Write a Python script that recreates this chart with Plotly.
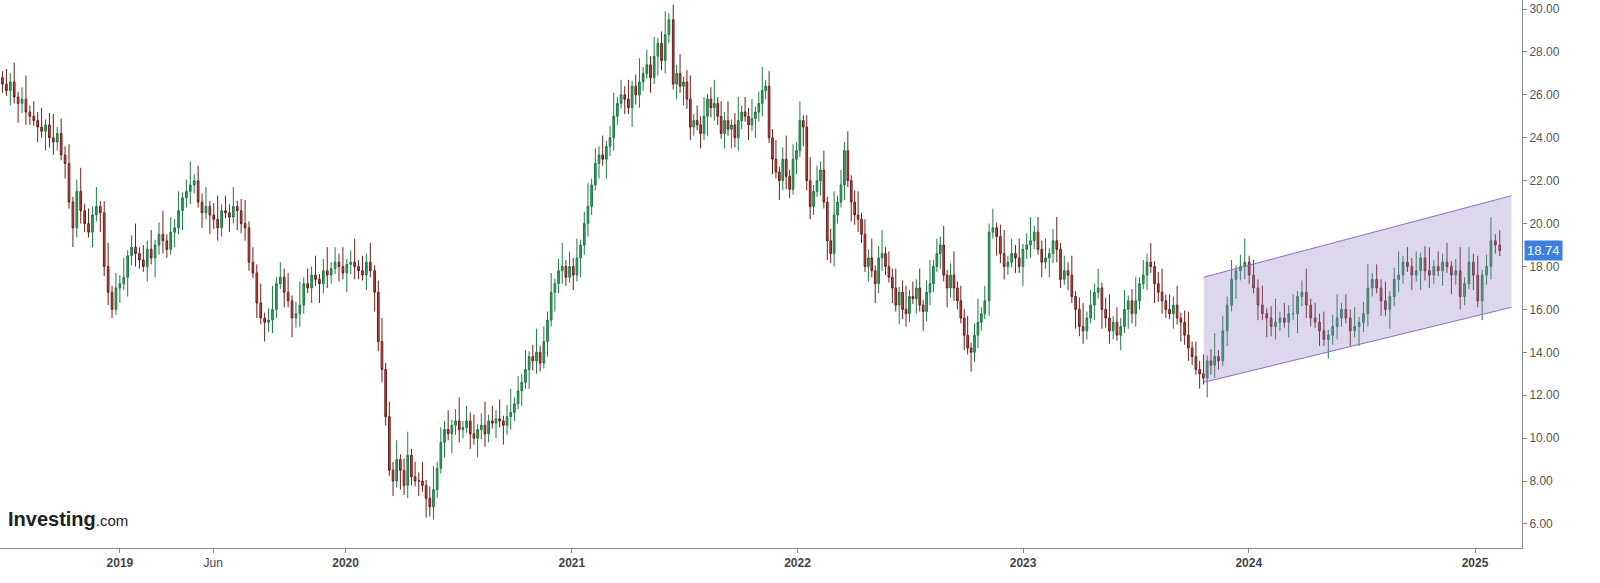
import plotly.graph_objects as go
import pandas as pd

closes_a = [26.5,26.2,26.6,25.9,25.6,25.8,25.2,25.0,24.8,24.5,24.3,24.6,24.0,23.8,24.2,23.2,22.8,21.0,19.8,21.5,20.6,20.0,19.6,20.4,20.8,20.5,18.0,16.8,16.0,17.0,17.2,17.5,18.5,18.9,18.6,18.3,18.0,18.8,18.4,19.0,19.5,19.2,18.8,19.6,19.8,20.6,21.2,21.5,21.8,22.0,21.0,20.5,20.8,20.4,20.2,19.8,20.6,20.5,20.3,20.8,20.6,20.0,19.8,18.2,17.7,16.3,15.6,15.4,15.5,16.0,17.2,17.5,16.8,16.4,15.6,15.8,16.2,17.2,17.0,17.6,17.4,17.2,17.8,17.6,17.9,18.2,18.0,17.7,18.1,18.2,18.0,17.8,17.6,18.2,17.8]
closes_b = [16.8,14.5,13.2,11.0,8.5,8.0,9.0,8.5,7.8,9.2,8.2,8.0,8.0,7.8,7.2,6.8,7.6,8.6,9.8,10.4,10.2,10.6,10.8,10.4,10.5,10.8,10.2,10.0,10.4,10.6,10.2,10.8,10.7,10.9,10.8,10.6,11.0,11.2,11.6,12.2,12.6,13.2,13.8,13.6,14.0,13.5,14.5,15.5,16.8,17.2,17.8,18.0,17.5,18.0,17.6,18.4,19.0,20.0,20.8,21.8,22.8,23.2,23.0,23.6,24.0,25.0,25.6,26.0,25.8,25.4,26.4,26.0,26.6,27.0,27.4,26.8,27.8,28.4,27.6,28.8,29.5]
closes_c = [26.5,27.0,26.4,26.6,25.8,24.5,24.8,24.6,24.2,25.0,25.8,25.4,25.6,25.0,24.2,24.8,24.4,24.6,24.0,24.8,25.2,25.0,24.6,24.9,25.2,25.6,26.2,26.4,24.0,23.0,22.4,22.0,23.0,22.2,21.6,23.0,23.4,24.8,24.5,22.0,20.8,21.5,22.0,22.5,21.0,19.2,18.6,20.4,21.0,21.8,23.4,22.0,21.0,20.4,20.2,19.5,18.0,18.4,17.8,17.2,18.4,18.6,18.0,17.5,17.0,16.2,16.8,16.0,15.8,16.6,16.5,17.0,16.2,15.9,16.8,17.2,18.0,18.6,19.0,17.6,17.0,17.6,17.0,16.4,15.6,14.8,14.2,14.0,14.8,15.4,15.8,16.4]
closes_d = [19.6,19.8,19.4,18.6,18.0,18.2,18.6,18.4,18.0,18.8,19.0,19.2,19.6,18.8,18.2,18.4,18.6,19.2,18.8,17.4,17.8,17.6,16.6,16.0,15.2,15.0,15.6,16.2,16.8,17.0,16.0,15.6,15.0,15.4,14.8,15.2,16.0,16.4,15.8,16.4,17.2,17.6,18.2,18.0,17.2,16.8,16.4,16.0,15.8,16.2,15.6,15.4,14.8,14.2,13.8,13.2,13.0,12.8,13.6,13.4,13.8,13.6]
closes_e = [15.0,16.2,17.4,17.8,18.0,18.2,17.6,17.0,16.2,15.8,15.6,15.2,15.4,15.6,15.4,15.8,15.8,16.6,16.8,16.2,15.6,15.4,15.0,14.6,14.8,15.2,15.6,16.0,15.6,15.0,15.2,15.4,15.8,17.0,17.4,17.0,16.4,16.0,16.6,17.4,17.6,18.2,18.0,17.6,17.8,18.4,17.8,17.6,18.0,17.8,18.2,18.0,17.6,17.8,16.6,17.2,18.2,17.6,16.4,17.6,18.0,19.2,19.0,18.74]
seg_start = ["2018-06-25", "2020-02-17", "2021-06-14", "2022-11-07", "2023-11-20"]
seg_end = ["2020-02-10", "2021-06-07", "2022-10-31", "2023-11-13", "2025-02-10"]
first_open = 26.8
wick_up = [0.3,0.7,0.4,0.9,0.25,0.55,1.1]
wick_dn = [0.4,0.25,0.7,0.3,0.9,0.45,0.6]

segments = [closes_a, closes_b, closes_c, closes_d, closes_e]
dates, closes = [], []
for seg, s, e in zip(segments, seg_start, seg_end):
    dates += list(pd.date_range(s, e, periods=len(seg)))
    closes += seg
opens = [first_open] + closes[:-1]
highs = [max(o, c) + wick_up[i % 7] for i, (o, c) in enumerate(zip(opens, closes))]
lows = [min(o, c) - wick_dn[i % 7] for i, (o, c) in enumerate(zip(opens, closes))]

ch_dates = ["2023-10-20", "2025-03-01"]
ch_low = [12.6, 16.1]
ch_high = [17.5, 21.3]

fig = go.Figure()
fig.add_trace(go.Scatter(x=ch_dates, y=ch_low, mode="lines", line=dict(color="#8e6cc9", width=1), showlegend=False, hoverinfo="skip"))
fig.add_trace(go.Scatter(x=ch_dates, y=ch_high, mode="lines", line=dict(color="#8e6cc9", width=1), fill="tonexty", fillcolor="rgba(150,130,200,0.32)", showlegend=False, hoverinfo="skip"))
fig.add_trace(go.Candlestick(x=dates, open=opens, high=highs, low=lows, close=closes,
    increasing=dict(line=dict(color="#1f7a44", width=1), fillcolor="#2ea562"),
    decreasing=dict(line=dict(color="#6b1f1a", width=1), fillcolor="#c8493f"),
    whiskerwidth=0, showlegend=False))

fig.add_annotation(x=1, xref="paper", y=closes[-1], yref="y", text="18.74", showarrow=False,
    xanchor="left", xshift=2, bgcolor="#3b7fe0", font=dict(color="white", size=13, family="Arial"), borderpad=2)
fig.add_annotation(x=0.004, xref="paper", y=0.03, yref="paper", xanchor="left", yanchor="bottom", showarrow=False,
    text="<b>Investing</b><span style='font-size:15px'>.com</span>", font=dict(size=20, color="#222", family="Arial"))

fig.update_layout(width=1600, height=583, margin=dict(l=0, r=78, t=0, b=35),
    plot_bgcolor="white", paper_bgcolor="white", font=dict(family="Arial", color="#444", size=12),
    xaxis=dict(rangeslider=dict(visible=False), range=["2018-06-21", "2025-03-18"], showgrid=False, automargin=False,
        tickvals=["2019-01-01","2019-06-01","2020-01-01","2021-01-01","2022-01-01","2023-01-01","2024-01-01","2025-01-01"],
        ticktext=["<b>2019</b>","Jun","<b>2020</b>","<b>2021</b>","<b>2022</b>","<b>2023</b>","<b>2024</b>","<b>2025</b>"],
        ticks="outside", ticklen=4, tickcolor="#888", showline=True, linecolor="#888"),
    yaxis=dict(side="right", range=[4.88, 30.42], tickvals=list(range(6, 31, 2)), tickformat=".2f", automargin=False,
        showgrid=False, ticks="outside", ticklen=4, tickcolor="#888", showline=True, linecolor="#888",
        tickfont=dict(size=12, color="#555")))
fig.write_html("out.html", config={"displayModeBar": False},
    post_script="document.body.style.margin='0';document.body.style.overflow='hidden';")
